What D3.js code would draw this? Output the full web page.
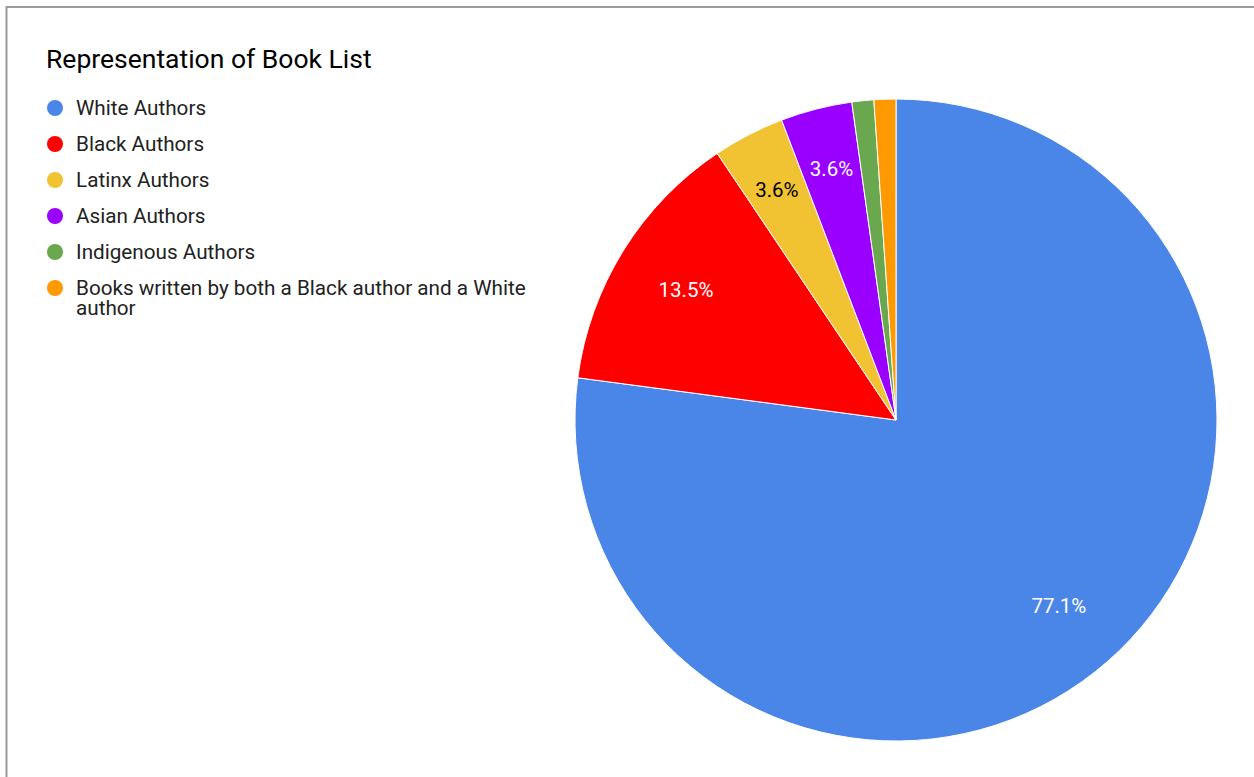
<!DOCTYPE html>
<html>
<head>
<meta charset="utf-8">
<script src="https://cdn.jsdelivr.net/npm/d3@7"></script>
<style>
  html, body { margin: 0; padding: 0; background: #fff; }
  svg { display: block; font-family: Roboto, "Noto Sans", sans-serif; }
</style>
</head>
<body>
<svg id="chart" width="1254" height="777"></svg>
<script>
// Share of the book list by author background (percent)
const categories = [
  "White Authors",
  "Black Authors",
  "Latinx Authors",
  "Asian Authors",
  "Indigenous Authors",
  "Books written by both a Black author and a White author"
];
const shares = [77.1, 13.5, 3.6, 3.6, 1.1, 1.1];
const sliceColors = ["#4a86e8", "#ff0000", "#f1c232", "#9900ff", "#6aa84f", "#ff9900"];
const labelColors = ["#ffffff", "#ffffff", "#000000", "#ffffff", "#ffffff", "#ffffff"];
const titleText = "Representation of Book List";

const svg = d3.select("#chart");
const W = 1254, H = 777;

// frame of the chart area
svg.append("rect")
  .attr("x", 6.5).attr("y", 7)
  .attr("width", W + 10).attr("height", H + 10)
  .attr("fill", "#fff")
  .attr("stroke", "#9a9a9a")
  .attr("stroke-width", 2);

svg.append("text")
  .attr("x", 46).attr("y", 68)
  .attr("font-size", 26.5)
  .attr("fill", "#000")
  .text(titleText);

// legend
const legend = svg.append("g");
const maxLegendWidth = 470;
const legendFont = 20.7;
const lineStep = 20;
let ly = 108;
categories.forEach((name, i) => {
  const g = legend.append("g");
  g.append("circle")
    .attr("cx", 55).attr("cy", ly)
    .attr("r", 8)
    .attr("fill", sliceColors[i]);
  const t = g.append("text")
    .attr("x", 76).attr("y", ly + 7)
    .attr("font-size", legendFont)
    .attr("fill", "#222");
  // wrap long entries onto a second line
  const words = name.split(" ");
  let line = [];
  let tspan = t.append("tspan").attr("x", 76).attr("dy", 0);
  let lines = 1;
  words.forEach(w => {
    line.push(w);
    tspan.text(line.join(" "));
    if (tspan.node().getComputedTextLength() > maxLegendWidth && line.length > 1) {
      line.pop();
      tspan.text(line.join(" "));
      line = [w];
      tspan = t.append("tspan").attr("x", 76).attr("dy", lineStep).text(w);
      lines++;
    }
  });
  ly += 36 + (lines - 1) * lineStep;
});

// pie
const cx = 896, cy = 420, R = 321;
const pie = d3.pie().sort(null).value(d => d)(shares);
const arc = d3.arc().innerRadius(0).outerRadius(R);
const pg = svg.append("g").attr("transform", `translate(${cx},${cy})`);

pg.selectAll("path.slice")
  .data(pie)
  .join("path")
  .attr("class", "slice")
  .attr("d", arc)
  .attr("fill", (d, i) => sliceColors[i])
  .attr("stroke", "#fff")
  .attr("stroke-width", 1);

// percentage labels: start at 0.77R along the mid-angle and move outward
// until the text box clears both slice edges by a small padding
const pad = 5.7;
function distToEdge(px, py, a) {
  const dx = Math.sin(a), dy = -Math.cos(a);
  return px * dy - py * dx;
}
pie.forEach((d, i) => {
  const txt = d3.format(".1f")(d.value) + "%";
  const t = pg.append("text")
    .attr("font-size", 20.5)
    .attr("text-anchor", "middle")
    .attr("fill", labelColors[i])
    .text(txt);
  const w = t.node().getComputedTextLength();
  const h = 18;
  const mid = (d.startAngle + d.endAngle) / 2;
  const span = d.endAngle - d.startAngle;
  let placed = null;
  for (let r = 0.77 * R; r < R - h; r += 1) {
    const x = r * Math.sin(mid), y = -r * Math.cos(mid);
    const corners = [[x - w/2, y - h/2], [x + w/2, y - h/2], [x - w/2, y + h/2], [x + w/2, y + h/2]];
    let ok = true;
    if (span < Math.PI) {
      for (const [px, py] of corners) {
        // inside the wedge: left of start edge, right of end edge
        const s = -distToEdge(px, py, d.startAngle);
        const e = distToEdge(px, py, d.endAngle);
        if (s < pad || e < pad || Math.hypot(px, py) > R - 4) { ok = false; break; }
      }
    }
    if (ok) { placed = [x, y]; break; }
  }
  if (!placed) { t.remove(); return; }
  t.attr("x", placed[0]).attr("y", placed[1] + 7);
});
</script>
</body>
</html>
